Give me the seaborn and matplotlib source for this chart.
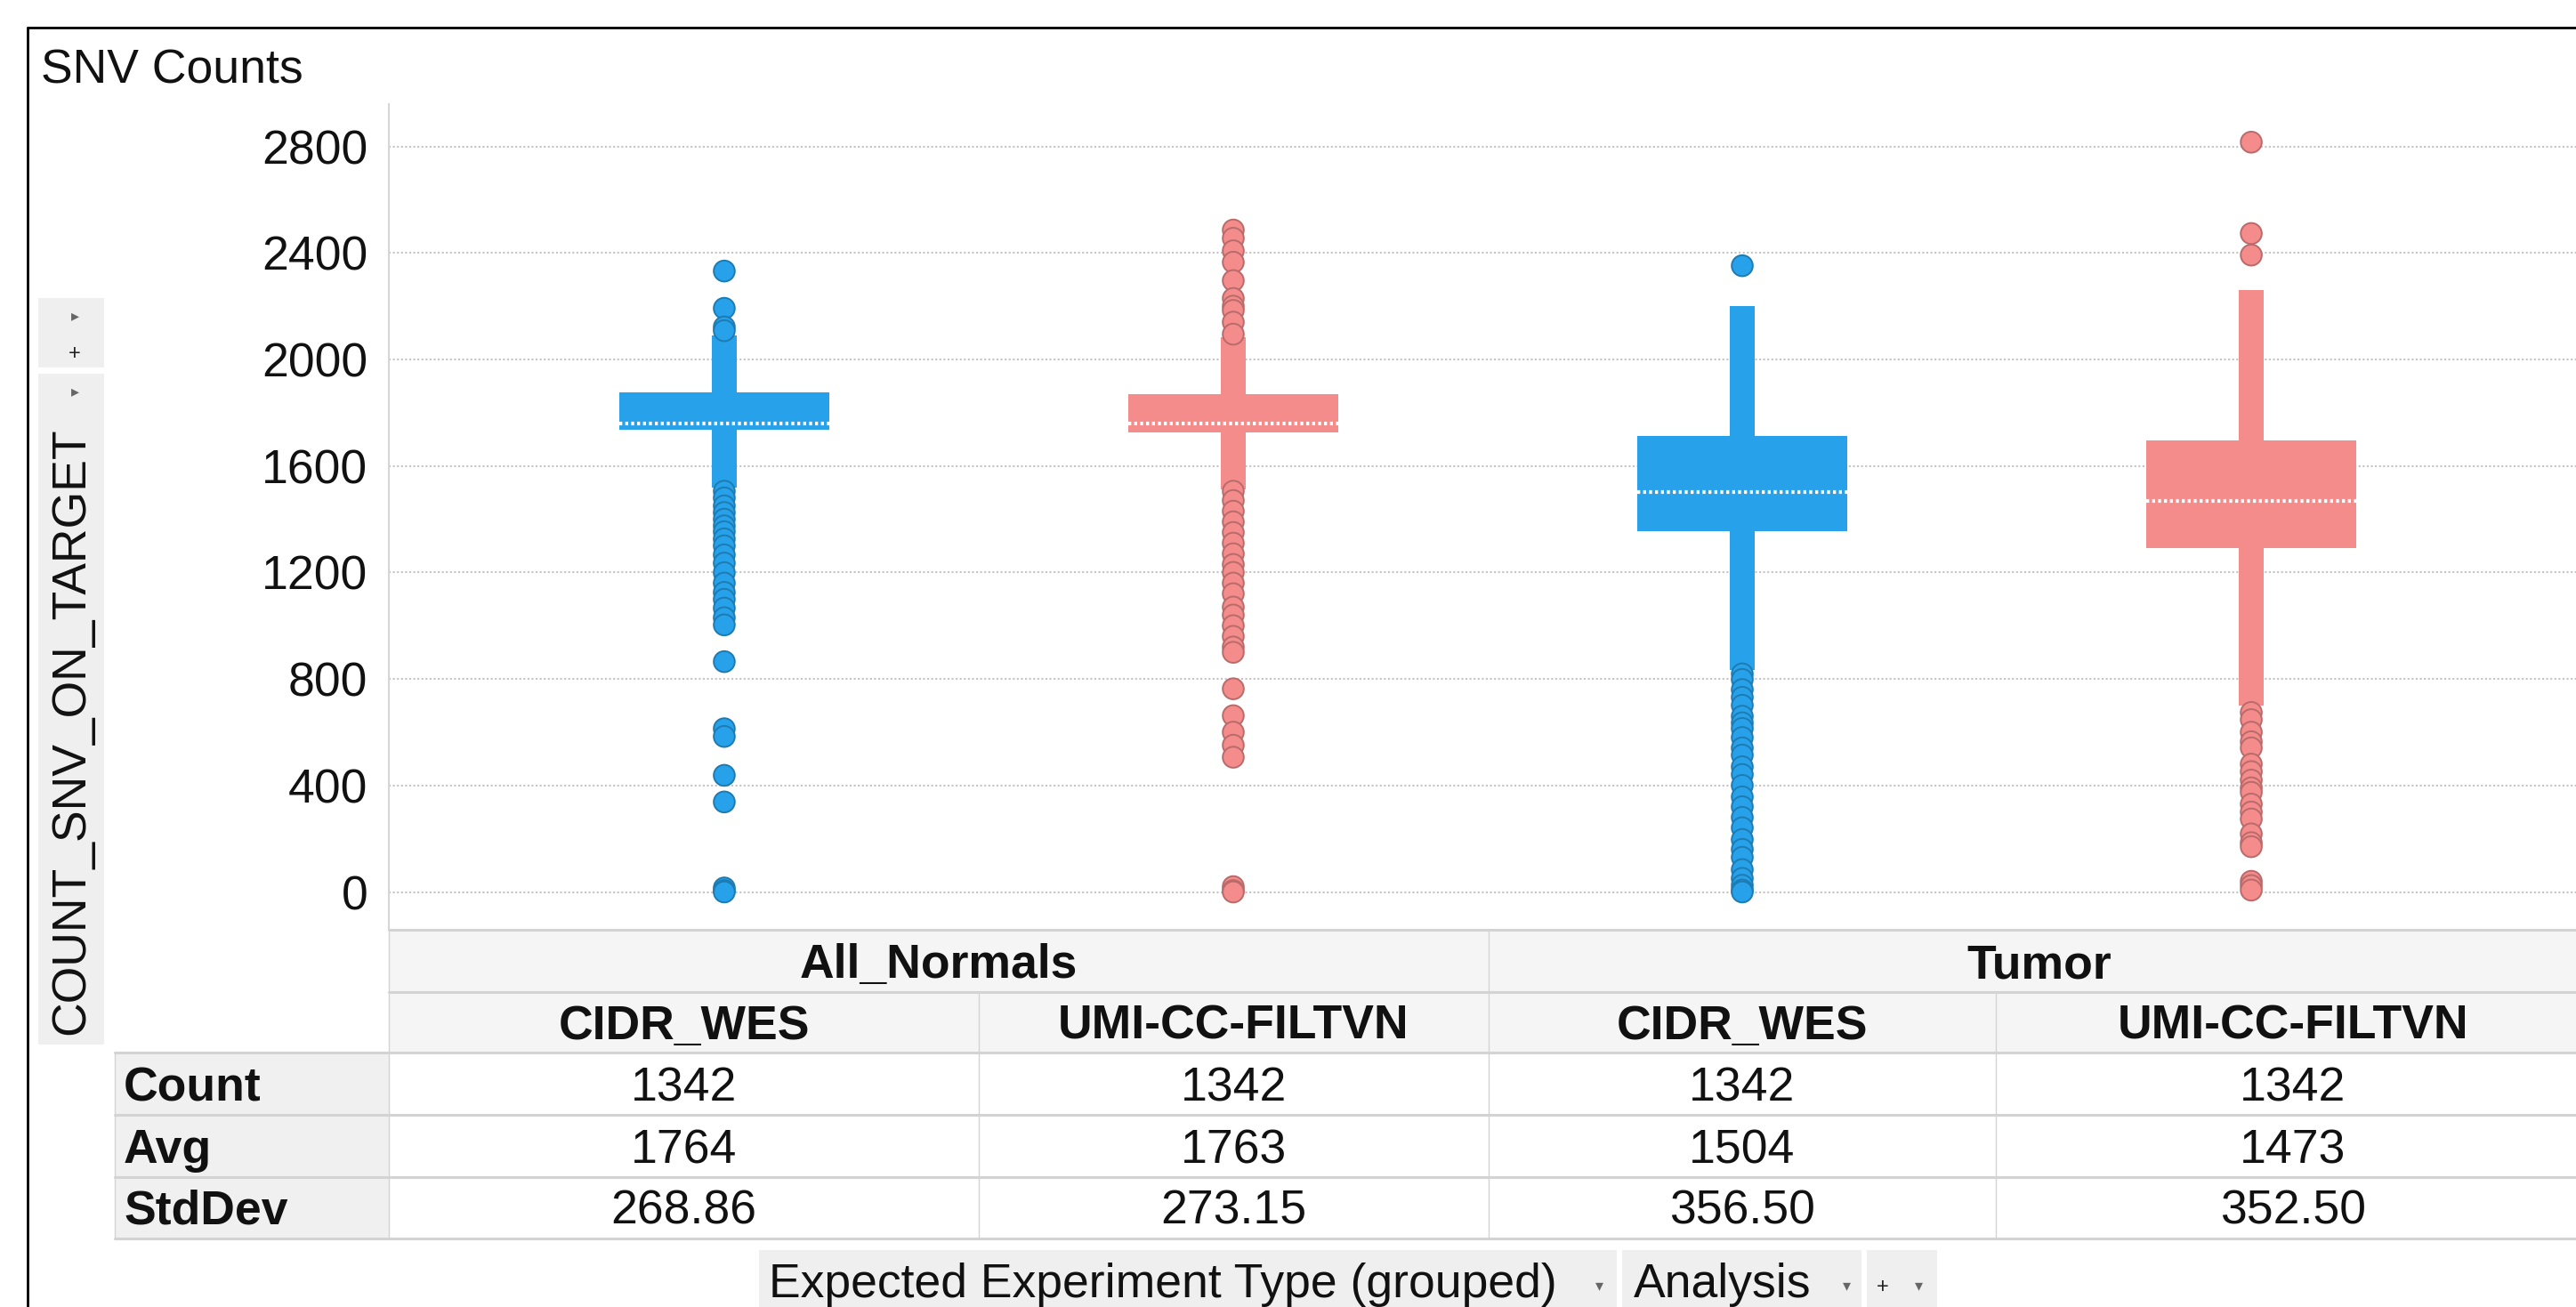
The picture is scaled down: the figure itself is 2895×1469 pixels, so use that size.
import matplotlib
matplotlib.use("Agg")
import matplotlib.pyplot as plt
import numpy as np
import pandas as pd
import seaborn as sns
from matplotlib.patches import Rectangle
from matplotlib.lines import Line2D

# ---------------- data ----------------
groups = ["All_Normals", "All_Normals", "Tumor", "Tumor"]
analyses = ["CIDR_WES", "UMI-CC-FILTVN", "CIDR_WES", "UMI-CC-FILTVN"]
q1 = [1735, 1727, 1356, 1290]
q3 = [1875, 1871, 1711, 1697]
center_line = [1759, 1759, 1503, 1470]
whisker_low = [1520, 1513, 835, 701]
whisker_high = [2091, 2082, 2200, 2260]

out_normal_cidr = [2332, 2192, 2122, 2108, 1505, 1480, 1450, 1425, 1400, 1375, 1353, 1326,
                   1300, 1266, 1235, 1199, 1160, 1125, 1099, 1066, 1030, 1003, 865, 613,
                   584, 438, 338, 15, 5, 0]
out_normal_umi = [2486, 2455, 2408, 2365, 2296, 2229, 2200, 2184, 2140, 2095, 1505, 1470,
                  1430, 1390, 1350, 1310, 1270, 1230, 1200, 1160, 1120, 1070, 1040, 1000,
                  960, 920, 900, 763, 662, 600, 551, 506, 20, 5, 0]
out_tumor_cidr = [2352, 819, 798, 760, 731, 701, 660, 635, 614, 580, 541, 514, 470, 441,
                  400, 357, 320, 280, 241, 197, 160, 130, 84, 51, 25, 7, 0]
out_tumor_umi = [2816, 2473, 2392, 674, 647, 600, 564, 541, 480, 452, 420, 391, 374, 330,
                 300, 274, 218, 185, 170, 40, 24, 7]

stat_names = ["Count", "Avg", "StdDev"]
counts = ["1342", "1342", "1342", "1342"]
avgs = ["1764", "1763", "1504", "1473"]
stddevs = ["268.86", "273.15", "356.50", "352.50"]
yticks = [0, 400, 800, 1200, 1600, 2000, 2400, 2800]

title = "SNV Counts"
y_title = "COUNT_SNV_ON_TARGET"
selector_labels = ["Expected Experiment Type (grouped)", "Analysis"]
colors = ["#27A2EA", "#F48C8C", "#27A2EA", "#F48C8C"]

# ---------------- style ----------------
sns.set_theme(style="white")
plt.rcParams["font.family"] = ["Liberation Sans", "DejaVu Sans"]
FS = 38.5

W, H = 2895, 1469
fig = plt.figure(figsize=(W / 100, H / 100), dpi=100)
fig.patch.set_facecolor("white")


def fx(x):
    return x / W


def fy(y):
    return 1 - y / H


def rect(x0, y0, x1, y1, color):
    fig.add_artist(Rectangle((fx(x0), fy(y1)), fx(x1) - fx(x0), fy(y0) - fy(y1),
                             transform=fig.transFigure, facecolor=color,
                             edgecolor="none", zorder=0))


def hline(y, x0, x1, color="#d3d3d3", lw=2.0):
    fig.add_artist(Line2D([fx(x0), fx(x1)], [fy(y), fy(y)], transform=fig.transFigure,
                          color=color, linewidth=lw, zorder=1))


def vline(x, y0, y1, color="#d3d3d3", lw=1.0):
    fig.add_artist(Line2D([fx(x), fx(x)], [fy(y0), fy(y1)], transform=fig.transFigure,
                          color=color, linewidth=lw, zorder=1))


def txt(x, y, s, ha="center", bold=False, size=FS, color="#111111", **kw):
    fig.text(fx(x), fy(y), s, ha=ha, va="baseline", fontsize=size,
             fontweight="bold" if bold else "normal", color=color, **kw)


# ---------------- main axes ----------------
ax = fig.add_axes([fx(437), fy(1045), 1 - fx(437), fy(117) - fy(1045)])
cats = [f"{g} / {a}" for g, a in zip(groups, analyses)]

box_df = pd.DataFrame({"cat": cats, "wlo": whisker_low, "whi": whisker_high,
                       "q1": q1, "q3": q3})
box_df["wlen"] = box_df["whi"] - box_df["wlo"]
box_df["qlen"] = box_df["q3"] - box_df["q1"]

# whiskers (thin bars)
sns.barplot(data=box_df, x="cat", y="wlen", order=cats, bottom=box_df["wlo"].values,
            width=0.049, errorbar=None, color=colors[0], linewidth=0, ax=ax, zorder=2)
n0 = len(ax.patches)
# boxes
sns.barplot(data=box_df, x="cat", y="qlen", order=cats, bottom=box_df["q1"].values,
            width=0.413, errorbar=None, color=colors[0], linewidth=0, ax=ax, zorder=2)
for p, c in zip(ax.patches[:n0], colors):
    p.set_facecolor(c)
    p.set_edgecolor("none")
for p, c in zip(ax.patches[n0:], colors):
    p.set_facecolor(c)
    p.set_edgecolor("none")

# center (dotted white) lines
for i, m in enumerate(center_line):
    ax.hlines(m, i - 0.2065, i + 0.2065, colors="white", linewidth=3.0,
              linestyles=(0, (0.8, 0.8)), zorder=3)

# outliers
outs = [out_normal_cidr, out_normal_umi, out_tumor_cidr, out_tumor_umi]
out_df = pd.DataFrame({"cat": np.repeat(cats, [len(o) for o in outs]),
                       "value": np.concatenate(outs)})
ncoll = len(ax.collections)
sns.stripplot(data=out_df, x="cat", y="value", hue="cat", order=cats, hue_order=cats,
              palette=dict(zip(cats, colors)), jitter=False, size=17, linewidth=1.4,
              legend=False, ax=ax, zorder=4)
for coll in ax.collections[ncoll:]:
    fcs = coll.get_facecolors()
    if len(fcs):
        r, g, b, a = fcs[0]
        coll.set_edgecolor((r * 0.76, g * 0.76, b * 0.76, 1.0))

ax.set_xlim(-0.659, 3.638)
ax.set_ylim(-142, 2959)
ax.set_yticks(yticks)
ax.set_yticklabels([str(t) for t in yticks])
ax.set_xticks([])
ax.set_xlabel("")
ax.set_ylabel("")
ax.grid(axis="y", color="#c4c4c4", linestyle=(0, (1, 1.2)), linewidth=1.5)
ax.grid(axis="x", visible=False)
ax.set_axisbelow(True)
for s in ["top", "right", "bottom"]:
    ax.spines[s].set_visible(False)
ax.spines["left"].set_color("#d6d6d6")
ax.spines["left"].set_linewidth(1.5)
ax.tick_params(axis="y", length=0, pad=17, labelsize=FS, labelcolor="#111111")
ax.set_facecolor("none")

# ---------------- frame, title, y label ----------------
fig.add_artist(Line2D([fx(31), 1], [fy(31), fy(31)], transform=fig.transFigure,
                      color="black", linewidth=2.0))
fig.add_artist(Line2D([fx(31), fx(31)], [fy(31), 0], transform=fig.transFigure,
                      color="black", linewidth=2.0))
txt(46, 94, title, ha="left")

rect(43, 335, 117, 413, "#efefef")
rect(43, 420, 117, 1174, "#efefef")
fig.text(fx(84), fy(355), "\u25B8", ha="center", va="center", fontsize=13, color="#666666",
         family=["DejaVu Sans"])
fig.text(fx(84), fy(398), "+", ha="center", va="center", fontsize=17, color="#222222")
fig.text(fx(84), fy(440), "\u25B8", ha="center", va="center", fontsize=13, color="#666666",
         family=["DejaVu Sans"])
fig.text(fx(80), fy(822), y_title, ha="center", va="center", rotation=90,
         fontsize=FS, color="#111111")

# ---------------- summary table ----------------
col_edges = [437, 1100, 1673, 2243, 2911]
col_centers = [(a + b) / 2 for a, b in zip(col_edges[:-1], col_edges[1:])]
rows_y = [1045, 1115, 1183, 1253, 1323, 1392]

rect(437, 1045, W, 1183, "#f5f5f5")
rect(129, 1183, 437, 1392, "#f0f0f0")

hline(1045, 437, W, lw=2.2)
hline(1115, 437, W, lw=2.2)
for y in rows_y[2:]:
    hline(y, 129, W, lw=2.2)
vline(129, 1183, 1392)
vline(437, 1045, 1392)
vline(1673, 1045, 1392)
vline(1100, 1115, 1392)
vline(2243, 1115, 1392)

# group header
group_names = []
for g in groups:
    if g not in group_names:
        group_names.append(g)
for gname in group_names:
    idx = [i for i, g in enumerate(groups) if g == gname]
    xc = (col_edges[idx[0]] + col_edges[idx[-1] + 1]) / 2
    txt(xc, 1099, gname, bold=True)
for i, a in enumerate(analyses):
    txt(col_centers[i], 1168, a, bold=True)

row_baselines = [1237, 1307, 1376]
for name, vals, yb in zip(stat_names, [counts, avgs, stddevs], row_baselines):
    txt(139, yb, name, ha="left", bold=True)
    for i, v in enumerate(vals):
        txt(col_centers[i], yb, v)

# ---------------- axis selectors at bottom ----------------
rect(853, 1405, 1817, H, "#efefef")
rect(1823, 1405, 2092, H, "#efefef")
rect(2098, 1405, 2177, H, "#efefef")
txt(864, 1458, selector_labels[0], ha="left")
txt(1836, 1458, selector_labels[1], ha="left")
fig.text(fx(1797), fy(1445), "\u25BE", ha="center", va="center", fontsize=13,
         color="#666666", family=["DejaVu Sans"])
fig.text(fx(2075), fy(1445), "\u25BE", ha="center", va="center", fontsize=13,
         color="#666666", family=["DejaVu Sans"])
fig.text(fx(2116), fy(1447), "+", ha="center", va="center", fontsize=17, color="#222222")
fig.text(fx(2156), fy(1445), "\u25BE", ha="center", va="center", fontsize=13,
         color="#666666", family=["DejaVu Sans"])

fig.savefig("out.png", dpi=100, facecolor="white")
